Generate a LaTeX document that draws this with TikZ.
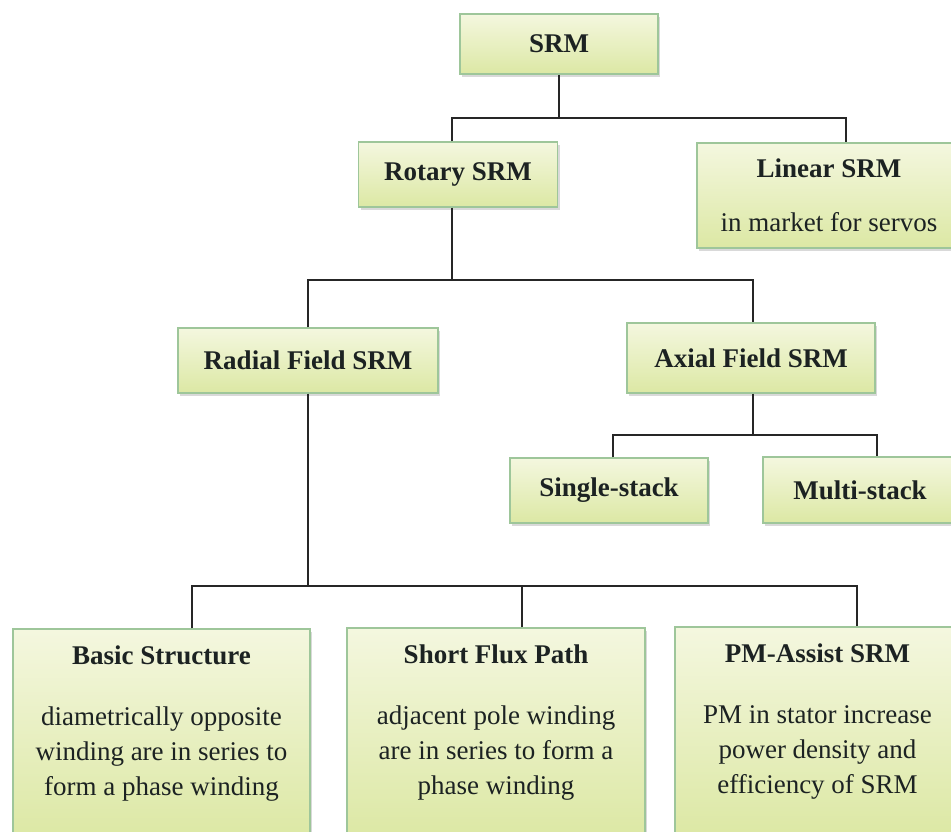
\documentclass[tikz,border=0pt]{standalone}
\usepackage{fontspec}
\setmainfont{Liberation Serif}
\usepackage{tikz}
\usetikzlibrary{positioning,calc,shadows}

\definecolor{boxtop}{HTML}{F4F7DF}
\definecolor{boxbot}{HTML}{DCE8A4}
\definecolor{boxline}{HTML}{9EC69A}
\definecolor{inktext}{HTML}{1C2222}

\tikzset{
  box/.style={draw=boxline, line width=1.2pt, top color=boxtop, bottom color=boxbot,
              drop shadow={shadow xshift=2pt, shadow yshift=-2.5pt, opacity=0.3},
              text=inktext, align=center, inner sep=0pt,
              font=\fontsize{27}{35}\selectfont},
  link/.style={draw=black!85, line width=1.6pt}
}

\begin{document}
\begin{tikzpicture}[x=1pt,y=-1pt]
  \useasboundingbox (0,0) rectangle (951,831);
  % Levels
  \node[box, minimum width=198pt, minimum height=60pt] (srm) at (559,44) {\textbf{SRM}};
  \node[box, minimum width=199pt, minimum height=65pt] (rot) at (458,174.5) {\textbf{Rotary SRM}};
  \node[box, minimum width=264pt, minimum height=105pt] (lin) at (829,195.5)
    {\textbf{Linear SRM}\\[19pt] in market for servos};
  \node[box, minimum width=260pt, minimum height=65pt] (rad) at (308,360.5) {\textbf{Radial Field SRM}};
  \node[box, minimum width=248pt, minimum height=70pt] (ax) at (751,358) {\textbf{Axial Field SRM}};
  \node[box, minimum width=198pt, minimum height=65pt] (sgl) at (609,490.5) {\textbf{Single-stack}};
  \node[box, minimum width=194pt, minimum height=66pt] (mul) at (860,490) {\textbf{Multi-stack}};
  % Bottom row
  \node[box, minimum width=297pt, minimum height=210pt, text depth=26pt] (bas) at (161.5,734)
    {\textbf{Basic Structure}\\[26pt] diametrically opposite\\ winding are in series to\\ form a phase winding};
  \node[box, minimum width=298pt, minimum height=210pt, text depth=26pt] (sfp) at (496,733)
    {\textbf{Short Flux Path}\\[26pt] adjacent pole winding\\ are in series to form a\\ phase winding};
  \node[box, minimum width=285pt, minimum height=210pt, text depth=26pt] (pma) at (817.5,732)
    {\textbf{PM-Assist SRM}\\[26pt] PM in stator increase\\ power density and\\ efficiency of SRM};
  % Bus heights
  \coordinate (b1) at (0,118);
  \coordinate (b2) at (0,280);
  \coordinate (b3) at (0,435);
  \coordinate (b4) at (0,586);
  % Connectors
  \draw[link] (srm.south) -- (srm.south |- b1);
  \draw[link] ([xshift=-6pt]rot.north) |- ([xshift=17pt]lin.north |- b1) -- ([xshift=17pt]lin.north);
  \draw[link] ([xshift=-6pt]rot.south) -- ([xshift=-6pt]rot.south |- b2);
  \draw[link] (rad.north) |- ([xshift=2pt]ax.north |- b2) -- ([xshift=2pt]ax.north);
  \draw[link] ([xshift=2pt]ax.south) -- ([xshift=2pt]ax.south |- b3);
  \draw[link] ([xshift=4pt]sgl.north) |- ([xshift=17pt]mul.north |- b3) -- ([xshift=17pt]mul.north);
  \draw[link] (rad.south) -- (rad.south |- b4);
  \draw[link] ([xshift=30.5pt]bas.north) |- ([xshift=39.5pt]pma.north |- b4) -- ([xshift=39.5pt]pma.north);
  \draw[link] ([xshift=26pt]sfp.north) -- ([xshift=26pt]sfp.north |- b4);
\end{tikzpicture}
\end{document}
